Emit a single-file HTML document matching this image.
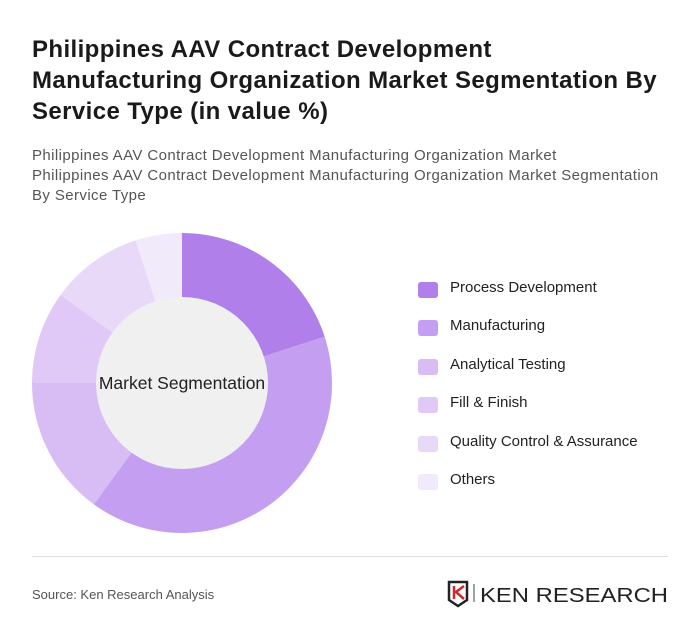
<!DOCTYPE html>
<html><head><meta charset="utf-8"><style>
body{margin:0;background:#fff;font-family:"Liberation Sans",sans-serif;}
#wrap{position:relative;width:700px;height:642px;overflow:hidden;}
h1{position:absolute;left:32px;top:34px;margin:0;font-size:24px;line-height:31px;font-weight:bold;color:#1a1a1a;width:680px;letter-spacing:0.4px;white-space:nowrap}
.sub{position:absolute;left:32px;top:146px;font-size:15px;line-height:20px;color:#555;width:680px;white-space:nowrap;letter-spacing:0.4px}
.legend{position:absolute;left:418px;top:279px}
.li{position:absolute;left:0;height:20px;white-space:nowrap;font-size:15px;color:#222}
.sw{position:absolute;left:0;top:3px;width:20px;height:16px;border-radius:3px}
.li span{position:absolute;left:32px;top:0}
.rule{position:absolute;left:32px;top:556px;width:636px;height:1px;background:#ddd}
.src{position:absolute;left:32px;top:587px;font-size:13px;color:#555}
</style></head><body>
<div id="wrap">
<h1>Philippines AAV Contract Development<br>Manufacturing Organization Market Segmentation By<br>Service Type (in value %)</h1>
<div class="sub">Philippines AAV Contract Development Manufacturing Organization Market<br>Philippines AAV Contract Development Manufacturing Organization Market Segmentation<br>By Service Type</div>
<svg id="donut" width="700" height="642" style="position:absolute;left:0;top:0"></svg>
<div class="legend" id="legend"></div>
<div class="rule"></div>
<div class="src">Source: Ken Research Analysis</div>
<svg style="position:absolute;left:447px;top:580px" width="225" height="28">
<path d="M2 2h18v18l-9 6-9-6z" fill="none" stroke="#222" stroke-width="2.5"/>
<path d="M7 6v13M17 6l-8 6 8 7" fill="none" stroke="#d0282e" stroke-width="2.5"/>
<line x1="27" y1="4" x2="27" y2="22" stroke="#444" stroke-width="1"/>
<text x="33" y="22" font-family="Liberation Sans,sans-serif" font-size="20" fill="#222" textLength="188" lengthAdjust="spacingAndGlyphs">KEN RESEARCH</text>
</svg>
</div>
<script>
const categories=["Process Development","Manufacturing","Analytical Testing","Fill & Finish","Quality Control & Assurance","Others"];
const values=[20,40,15,10,10,5];
const colors=["#b07fea","#c49ef0","#d8bdf5","#e0c8f7","#e8d9f9","#f1eafb"];
const svg=document.getElementById('donut');
const NS="http://www.w3.org/2000/svg";
const cx=182,cy=383,R=150,r=86;
const total=values.reduce((a,b)=>a+b,0);
function pt(a,rad){return [cx+rad*Math.sin(a),cy-rad*Math.cos(a)];}
let a0=0;
values.forEach((v,i)=>{
  const a1=a0+v/total*2*Math.PI;
  const large=(a1-a0)>Math.PI?1:0;
  const p1=pt(a0,R),p2=pt(a1,R);
  const p=document.createElementNS(NS,'path');
  p.setAttribute('d',`M${cx} ${cy}L${p1[0]} ${p1[1]}A${R} ${R} 0 ${large} 1 ${p2[0]} ${p2[1]}Z`);
  p.setAttribute('fill',colors[i]);
  
  
  svg.appendChild(p);
  a0=a1;
});
const c=document.createElementNS(NS,'circle');
c.setAttribute('cx',cx);c.setAttribute('cy',cy);c.setAttribute('r',r);c.setAttribute('fill','#f0f0f0');


svg.appendChild(c);
const t=document.createElementNS(NS,'text');
t.setAttribute('x',cx);t.setAttribute('y',cy+6);t.setAttribute('text-anchor','middle');
t.setAttribute('font-family','Liberation Sans,sans-serif');t.setAttribute('font-size','17.5');t.setAttribute('fill','#222');
t.textContent='Market Segmentation';


svg.appendChild(t);
const lg=document.getElementById('legend');
categories.forEach((cat,i)=>{
  const d=document.createElement('div');d.className='li';d.style.top=(i*38.4)+'px';
  
  
  d.innerHTML=`<div class="sw" style="background:${colors[i]}"></div><span>${cat.replace('&','&amp;')}</span>`;
  lg.appendChild(d);
});
</script>
</body></html>
